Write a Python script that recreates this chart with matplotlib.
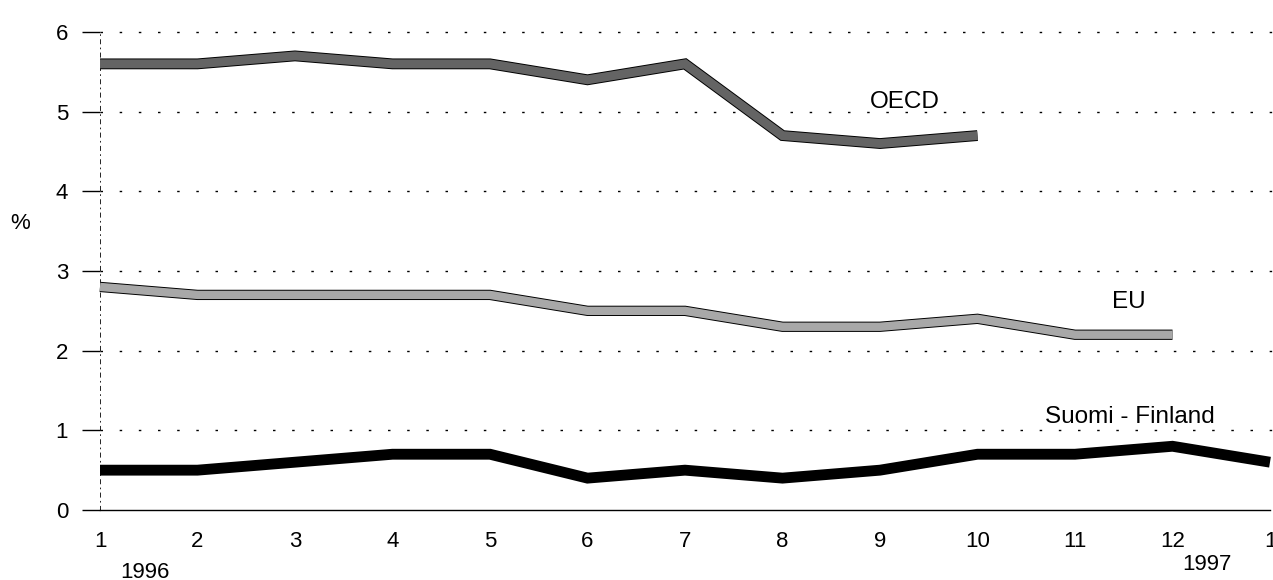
import matplotlib.pyplot as plt
import matplotlib.patheffects as pe

plt.rcParams['font.family'] = ['Liberation Sans', 'DejaVu Sans']

# kuukaudet 1/1996 ... 1/1997
kuukaudet = list(range(1, 14))
kuukausi_nimet = ['1', '2', '3', '4', '5', '6', '7', '8', '9', '10', '11', '12', '1']

oecd = [5.6, 5.6, 5.7, 5.6, 5.6, 5.4, 5.6, 4.7, 4.6, 4.7]
eu = [2.8, 2.7, 2.7, 2.7, 2.7, 2.5, 2.5, 2.3, 2.3, 2.4, 2.2, 2.2]
suomi = [0.5, 0.5, 0.6, 0.7, 0.7, 0.4, 0.5, 0.4, 0.5, 0.7, 0.7, 0.8, 0.6]

fig = plt.figure(figsize=(12.73, 5.8), dpi=100)
ax = fig.add_axes([100 / 1273, 70 / 580, 1170 / 1273, 478 / 580])

for y in range(1, 7):
    ax.plot([1, 13.05], [y, y], color='black', lw=1.0,
            linestyle=(0, (1.8, 12)), clip_on=False, zorder=1)

reuna = [pe.Stroke(linewidth=7.8, foreground='black'), pe.Normal()]
ax.plot(kuukaudet[:len(oecd)], oecd, color='#646464', lw=6.4,
        solid_joinstyle='miter', solid_capstyle='butt',
        path_effects=reuna, clip_on=False, zorder=3)

reuna_eu = [pe.Stroke(linewidth=7.4, foreground='black'), pe.Normal()]
ax.plot(kuukaudet[:len(eu)], eu, color='#a8a8a8', lw=6.0,
        solid_joinstyle='miter', solid_capstyle='butt',
        path_effects=reuna_eu, clip_on=False, zorder=3)

ax.plot(kuukaudet, suomi, color='black', lw=7.8,
        solid_joinstyle='miter', solid_capstyle='butt', clip_on=False, zorder=3)

ax.set_xlim(1, 13)
ax.set_ylim(0, 6)

ax.spines['top'].set_visible(False)
ax.spines['right'].set_visible(False)
ax.spines['left'].set_linestyle((0, (5, 5, 1, 5)))
ax.spines['left'].set_linewidth(0.6)
ax.spines['bottom'].set_linewidth(1.0)

ax.set_yticks(range(0, 7))
ax.set_xticks(kuukaudet)
ax.set_xticklabels(kuukausi_nimet)
ax.tick_params(axis='y', length=13, width=1.0, pad=10, labelsize=16)
ax.tick_params(axis='x', length=0, pad=15, labelsize=16)

ax.text(-0.068, 0.6, '%', transform=ax.transAxes, fontsize=16, ha='center', va='center')
fig.text(145 / 1273, 1 - 572 / 580, '1996', fontsize=16, ha='center', va='center')
fig.text(1207 / 1273, 1 - 565 / 580, '1997', fontsize=16, ha='center', va='center')

ax.text(8.9, 5.12, 'OECD', fontsize=17.5, ha='left', va='center')
ax.text(11.55, 2.61, 'EU', fontsize=17.5, ha='center', va='center')
ax.text(10.69, 1.17, 'Suomi - Finland', fontsize=17.5, ha='left', va='center')

plt.savefig('out.png', dpi=100)
plt.close()
